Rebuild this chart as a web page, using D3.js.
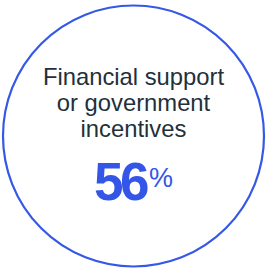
<!DOCTYPE html>
<html>
<head>
<meta charset="utf-8">
<script src="https://cdn.jsdelivr.net/npm/d3@7"></script>
<style>
html,body{margin:0;padding:0;background:#fff;}
svg{display:block;}
</style>
</head>
<body>
<svg id="chart" width="266" height="270"></svg>
<script>
const labelLines = ["Financial support", "or government", "incentives"];
const values = [56];
const units = ["%"];

const svg = d3.select("#chart");
const W = 266, H = 270;
const cx = 133.5, cy = 136, r = 130.5;

svg.append("circle")
  .attr("cx", cx).attr("cy", cy).attr("r", r)
  .attr("fill", "#fff")
  .attr("stroke", "#3558e6")
  .attr("stroke-width", 2.2);

const y = d3.scaleLinear().domain([0, 1]).range([85, 111]);

svg.selectAll("text.label")
  .data(labelLines)
  .join("text")
  .attr("class", "label")
  .attr("x", cx)
  .attr("y", (d, i) => y(i) + (i === 2 ? -0.5 : 0))
  .attr("text-anchor", "middle")
  .attr("font-family", "Liberation Sans, Arial, sans-serif")
  .attr("font-size", 23.8)
  .attr("fill", "#22303c")
  .text(d => d);

const val = svg.append("text")
  .attr("x", cx)
  .attr("y", 200)
  .attr("text-anchor", "middle")
  .attr("font-family", "Liberation Sans, Arial, sans-serif")
  .attr("fill", "#3356e8");

val.selectAll("tspan")
  .data(values)
  .join("tspan")
  .attr("font-size", 53)
  .attr("font-weight", "bold")
  .attr("letter-spacing", -3.5)
  .text(d => d);

val.append("tspan")
  .attr("font-size", 27)
  .attr("dx", 3)
  .attr("dy", -13)
  .text(units[0]);
</script>
</body>
</html>
